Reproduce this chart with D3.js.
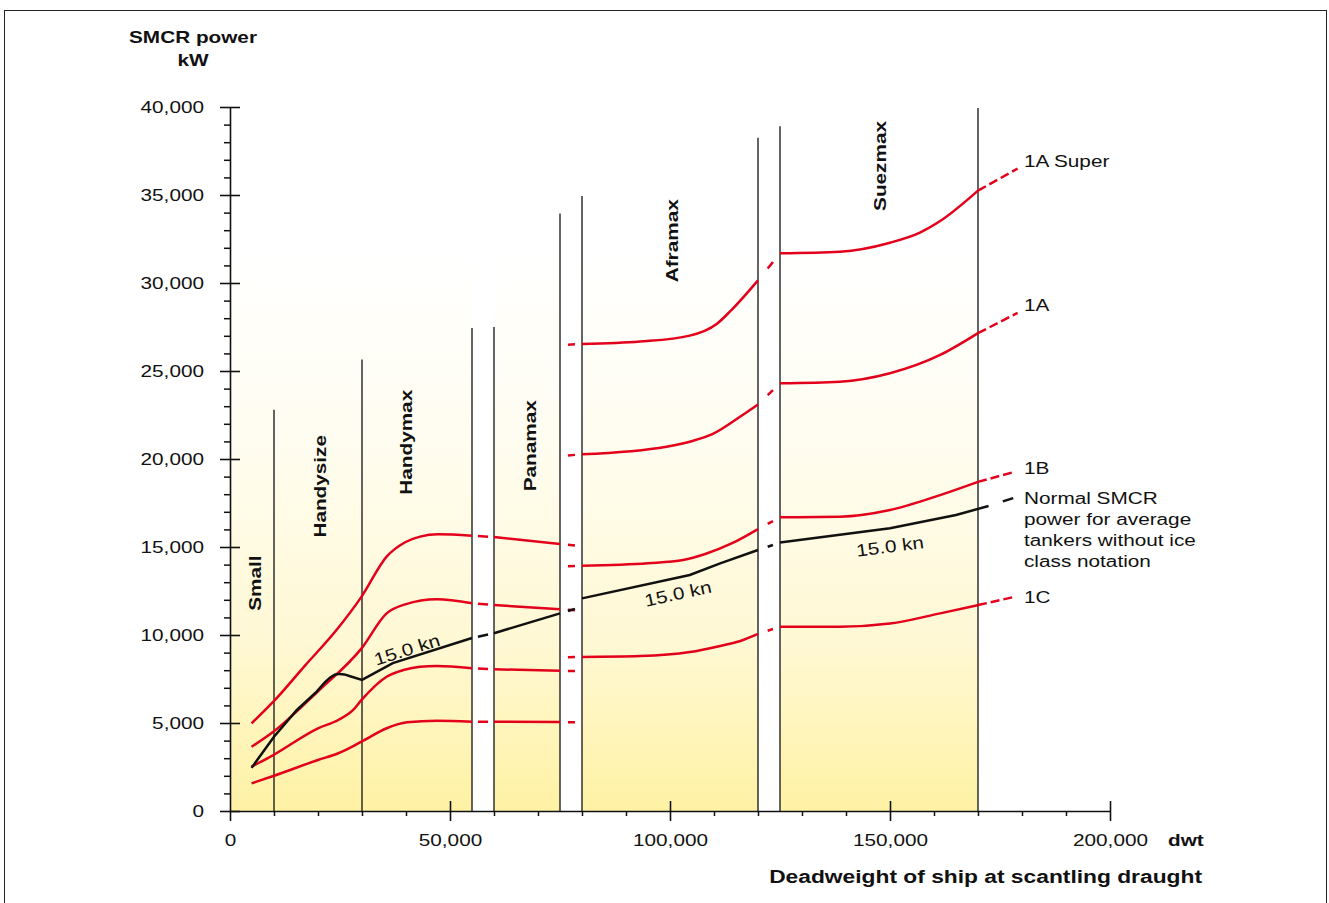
<!DOCTYPE html>
<html>
<head>
<meta charset="utf-8">
<script src="https://cdn.jsdelivr.net/npm/d3@7"></script>
<style>
  body { margin: 0; background: #fff; }
  svg { display: block; font-family: "Liberation Sans", Arial, Helvetica, sans-serif; }
</style>
</head>
<body>
<svg id="canvas" width="1329" height="903"></svg>
<script>
// Ship size classes, label anchor (dwt / kW)
var CLASS_NAMES = ['Small', 'Handysize', 'Handymax', 'Panamax', 'Aframax', 'Suezmax'];
var CLASS_LABEL_DWT = [5700, 20500, 40000, 68200, 100500, 147700];
var CLASS_LABEL_KW = [12950, 18450, 20950, 20750, 32400, 36650];

// Shaded dwt bands (white gaps between them)
var BAND_FROM = [0, 60000, 80000, 125000];
var BAND_TO = [55000, 75000, 120000, 170000];

// Vertical class boundaries and how high they reach
var DIVIDER_DWT = [10000, 30000, 55000, 60000, 75000, 80000, 120000, 125000, 170000];
var DIVIDER_TOP_KW = [22800, 25650, 27450, 27500, 33950, 34950, 38250, 38900, 39950];

// Axis ticks
var X_MAJOR = [0, 50000, 100000, 150000, 200000];
var Y_MAJOR = [0, 5000, 10000, 15000, 20000, 25000, 30000, 35000, 40000];

// Curves: one list of [dwt, kW] points per band
var CLASS_1A_SUPER = [
  [[4900, 4980], [9850, 6210], [17000, 8250], [24200, 10280], [29900, 12180], [35600, 14450], [39800, 15270], [43200, 15590], [47300, 15720], [55000, 15640]],
  [[60000, 15570], [75000, 15170]],
  [[80000, 26530], [93200, 26670], [104500, 27010], [110600, 27670], [113600, 28370], [120000, 30150]],
  [[125000, 31690], [138600, 31780], [150000, 32290], [156800, 32860], [161400, 33520], [170000, 35250]]
];
var CLASS_1A = [
  [[4900, 3650], [9850, 4500], [20000, 6800], [29900, 9240], [35600, 11230], [39800, 11740], [47000, 12030], [55000, 11800]],
  [[60000, 11700], [75000, 11460]],
  [[80000, 20270], [99200, 20700], [105300, 21040], [109500, 21400], [115900, 22400], [120000, 23100]],
  [[125000, 24300], [138600, 24390], [150000, 24870], [161400, 25910], [170000, 27150]]
];
var CLASS_1B = [
  [[4900, 2520], [9850, 3180], [20000, 4700], [24600, 5170], [28000, 5740], [29900, 6310], [35600, 7630], [39400, 8010], [43200, 8200], [47000, 8240], [55000, 8110]],
  [[60000, 8050], [75000, 7970]],
  [[80000, 13940], [95000, 14080], [103000, 14260], [108000, 14600], [114000, 15200], [120000, 16020]],
  [[125000, 16690], [138600, 16720], [150000, 17100], [161400, 17950], [170000, 18700]]
];
var CLASS_1C = [
  [[4900, 1570], [9850, 1990], [20000, 2900], [24600, 3280], [29900, 3940], [35600, 4700], [40200, 5040], [47000, 5130], [55000, 5070]],
  [[60000, 5070], [75000, 5050]],
  [[80000, 8750], [93200, 8800], [104500, 9030], [111400, 9380], [116000, 9660], [120000, 10060]],
  [[125000, 10470], [138600, 10470], [150000, 10650], [161400, 11230], [170000, 11700]]
];
var NORMAL_SMCR = [
  [[4900, 2450], [10000, 4220], [15200, 5740], [19700, 6780], [21500, 7300], [22700, 7575], [23800, 7740], [24800, 7790], [26000, 7760], [27300, 7660], [30000, 7450], [37000, 8400], [55000, 9830]],
  [[60000, 10100], [75000, 11230]],
  [[80000, 12080], [104500, 13410], [111400, 14070], [120000, 14830]],
  [[125000, 15250], [150000, 16060], [165000, 16820], [172400, 17330]]
];

// Dashed continuation beyond the Suezmax band
var SERIES_END = [[179000, 36500], [179000, 28300], [178000, 19250], [178000, 12150], [178000, 17780]];
var SERIES_DATA = [CLASS_1A_SUPER, CLASS_1A, CLASS_1B, CLASS_1C, NORMAL_SMCR];
var SERIES_ICE = [true, true, true, true, false];
var SERIES_LABELS = [['1A Super'], ['1A'], ['1B'], ['1C'], ['Normal SMCR', 'power for average', 'tankers without ice', 'class notation']];

// Speed labels on the normal line
var KN_LABEL = '15.0 kn';
var KN_LABEL_DWT = [40200, 101800, 150000];

var svg = d3.select('#canvas');
var RED = '#e3001b';
var INK = '#111';
var STRETCH = 1.2;

var xScale = d3.scaleLinear().domain([0, 200000]).range([230, 1110]);
var yScale = d3.scaleLinear().domain([0, 40000]).range([811, 107]);

/**
 * Adds a text that is a little wider than the plain font, like the original.
 */
function addText(parent, str, px, py, opts) {
  opts = opts || {};
  return parent.append('text')
    .attr('transform', 'translate(' + px + ',' + py + ') rotate(' + (opts.angle || 0) + ') scale(' + STRETCH + ',1)')
    .attr('text-anchor', opts.anchor || 'start')
    .attr('dy', '0.35em')
    .attr('font-size', opts.size || 17.3)
    .attr('font-weight', opts.bold ? 'bold' : 'normal')
    .attr('fill', INK)
    .text(str);
}

// Outer frame
svg.append('rect')
  .attr('x', 4.5).attr('y', 10.5)
  .attr('width', 1322).attr('height', 900)
  .attr('fill', 'none')
  .attr('stroke', '#222')
  .attr('stroke-width', 1);

// Yellow to white band fill
var gradient = svg.append('defs').append('linearGradient')
  .attr('id', 'band-fill')
  .attr('gradientUnits', 'userSpaceOnUse')
  .attr('x1', 0).attr('x2', 0)
  .attr('y1', yScale(0)).attr('y2', yScale(32000));
[[0, '#fff2a4'], [0.3, '#fff8d4'], [0.65, '#fffdf0'], [1, '#ffffff']].forEach(function (s) {
  gradient.append('stop').attr('offset', s[0]).attr('stop-color', s[1]);
});

svg.append('g').selectAll('rect')
  .data(BAND_FROM)
  .enter()
  .append('rect')
  .attr('x', function (d) { return xScale(d); })
  .attr('width', function (d, i) { return xScale(BAND_TO[i]) - xScale(d); })
  .attr('y', yScale(40000))
  .attr('height', yScale(0) - yScale(40000))
  .attr('fill', 'url(#band-fill)');

// Class boundaries
svg.append('g').selectAll('line')
  .data(DIVIDER_DWT)
  .enter()
  .append('line')
  .attr('x1', function (d) { return xScale(d); })
  .attr('x2', function (d) { return xScale(d); })
  .attr('y1', yScale(0))
  .attr('y2', function (d, i) { return yScale(DIVIDER_TOP_KW[i]); })
  .attr('stroke', INK)
  .attr('stroke-width', 1.3);

// Class names
CLASS_NAMES.forEach(function (name, i) {
  addText(svg, name, xScale(CLASS_LABEL_DWT[i]), yScale(CLASS_LABEL_KW[i]), { angle: -90, anchor: 'middle', bold: true });
});

// Y axis
var yMinor = d3.range(0, 40001, 1000).filter(function (v) { return v % 5000; });
svg.append('g')
  .attr('transform', 'translate(230,0)')
  .call(d3.axisLeft(yScale).tickValues(yMinor).tickSize(6).tickSizeOuter(0).tickFormat(''))
  .call(function (g) { g.select('.domain').remove(); })
  .selectAll('line').attr('stroke', INK).attr('stroke-width', 1.5);

var yAxis = svg.append('g')
  .attr('transform', 'translate(230,0)')
  .call(d3.axisLeft(yScale).tickValues(Y_MAJOR).tickSize(10).tickSizeOuter(0).tickFormat(d3.format(',')));
yAxis.select('.domain').attr('stroke', INK).attr('stroke-width', 1.6);
yAxis.selectAll('.tick line').attr('x1', -10).attr('x2', 10).attr('stroke', INK).attr('stroke-width', 1.6);
yAxis.selectAll('.tick text')
  .attr('x', 0)
  .attr('transform', 'translate(-26,0) scale(' + STRETCH + ',1)')
  .attr('font-size', 17.3)
  .attr('font-family', null)
  .attr('fill', INK);

// X axis
var xMinor = d3.range(10000, 200000, 10000).filter(function (v) { return v % 50000; });
svg.append('g')
  .attr('transform', 'translate(0,811)')
  .call(d3.axisBottom(xScale).tickValues(xMinor).tickSize(5).tickSizeOuter(0).tickFormat(''))
  .call(function (g) { g.select('.domain').remove(); })
  .selectAll('line').attr('stroke', INK).attr('stroke-width', 1.5);

var xAxis = svg.append('g')
  .attr('transform', 'translate(0,811)')
  .call(d3.axisBottom(xScale).tickValues(X_MAJOR).tickSize(10).tickSizeOuter(0).tickFormat(d3.format(',')));
xAxis.select('.domain').attr('stroke', INK).attr('stroke-width', 1.6);
xAxis.selectAll('.tick line')
  .attr('y1', function (d) { return d === 0 ? 0 : -10; })
  .attr('stroke', INK)
  .attr('stroke-width', 1.6);
xAxis.selectAll('.tick text')
  .attr('y', 0)
  .attr('dy', '0.35em')
  .attr('transform', 'translate(0,29) scale(' + STRETCH + ',1)')
  .attr('font-size', 17.3)
  .attr('font-family', null)
  .attr('fill', INK);

// Axis titles
addText(svg, 'SMCR power', 193, 37, { anchor: 'middle', bold: true });
addText(svg, 'kW', 193, 60, { anchor: 'middle', bold: true });
addText(svg, 'dwt', 1168, 840, { bold: true });
addText(svg, 'Deadweight of ship at scantling draught', 1202, 876, { anchor: 'end', bold: true, size: 19 });

// Curves
var smoothLine = d3.line()
  .x(function (d) { return xScale(d[0]); })
  .y(function (d) { return yScale(d[1]); })
  .curve(d3.curveMonotoneX);
var straightLine = d3.line()
  .x(function (d) { return xScale(d[0]); })
  .y(function (d) { return yScale(d[1]); });

// How each gap between bands is crossed, and which part of it is dashed
var GAP_MODES = ['bridge', 'break', 'bridge'];
var GAP_SPAN = [[0.27, 0.73], [0.36, 0.68], [0.44, 0.68]];

function lerp(a, b, t) {
  return [a[0] + (b[0] - a[0]) * t, a[1] + (b[1] - a[1]) * t];
}

function extrapolate(p0, p1, dwt) {
  var slope = (p1[1] - p0[1]) / (p1[0] - p0[0]);
  return [dwt, p1[1] + slope * (dwt - p1[0])];
}

var curveGroup = svg.append('g').attr('fill', 'none').attr('stroke-width', 2.5);

SERIES_DATA.forEach(function (segs, i) {
  var color = SERIES_ICE[i] ? RED : INK;
  var g = curveGroup.append('g').attr('stroke', color);

  segs.forEach(function (pts) {
    g.append('path')
      .attr('d', SERIES_ICE[i] ? smoothLine(pts) : straightLine(pts));
  });

  // Dashes across the white gaps
  GAP_MODES.forEach(function (mode, k) {
    var left = segs[k];
    var right = segs[k + 1];
    var a = left[left.length - 1];
    var b = right[0];
    var span = GAP_SPAN[k];
    var pieces = [];
    if (mode === 'bridge') {
      pieces.push([lerp(a, b, span[0]), lerp(a, b, span[1])]);
    } else {
      var d0 = a[0] + (b[0] - a[0]) * span[0];
      var d1 = a[0] + (b[0] - a[0]) * span[1];
      var l0 = left[left.length - 2];
      pieces.push([extrapolate(l0, a, d0), extrapolate(l0, a, d1)]);
      if (SERIES_ICE[i]) {
        pieces.push([extrapolate(right[1], b, d0), extrapolate(right[1], b, d1)]);
      }
    }
    pieces.forEach(function (p) {
      g.append('path').attr('d', straightLine(p));
    });
  });

  // Dashed continuation at the right
  var last = segs[segs.length - 1];
  g.append('path')
    .attr('d', straightLine([last[last.length - 1], SERIES_END[i]]))
    .attr('stroke-dasharray', SERIES_ICE[i] ? '9,4' : '0,15,12,100');
});

// Series names at the right
var LABEL_DY = [-8, -8, -4, 0, 0];
SERIES_LABELS.forEach(function (lines, i) {
  lines.forEach(function (str, j) {
    addText(svg, str, 1024, yScale(SERIES_END[i][1]) + LABEL_DY[i] + j * 21);
  });
});

// Speed labels along the normal line
var KN_LABEL_DY = [-9, 16, 18];
var normalPoints = [].concat.apply([], NORMAL_SMCR);
KN_LABEL_DWT.forEach(function (dwt, i) {
  var p0, p1;
  for (var k = 0; k < normalPoints.length - 1; k++) {
    if (normalPoints[k][0] <= dwt && dwt <= normalPoints[k + 1][0]) {
      p0 = normalPoints[k];
      p1 = normalPoints[k + 1];
      break;
    }
  }
  var kw = p0[1] + (p1[1] - p0[1]) * (dwt - p0[0]) / (p1[0] - p0[0]);
  var angle = Math.atan2(yScale(p1[1]) - yScale(p0[1]), xScale(p1[0]) - xScale(p0[0])) * 180 / Math.PI;
  addText(svg, KN_LABEL, xScale(dwt), yScale(kw) + KN_LABEL_DY[i], { anchor: 'middle', angle: angle });
});
</script>
</body>
</html>
